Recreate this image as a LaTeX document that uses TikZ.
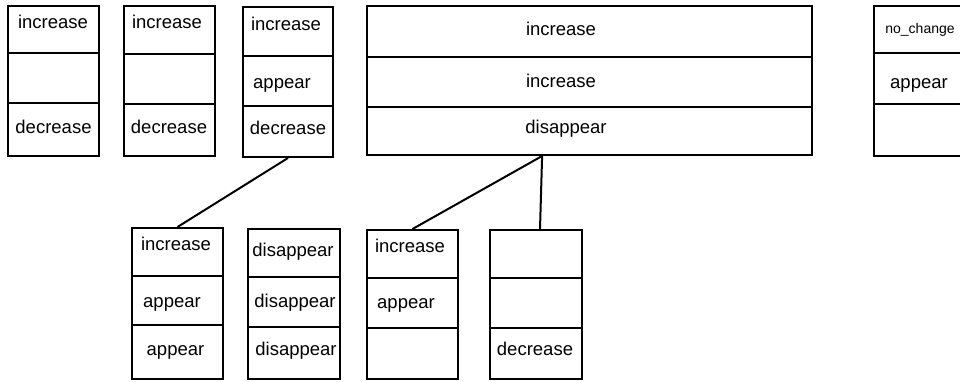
\documentclass[tikz,border=0pt]{standalone}
\usepackage{fontspec}
\setmainfont{Liberation Sans}
\usepackage{tikz}
\usetikzlibrary{calc}

\begin{document}
\begin{tikzpicture}[x=1pt,y=-1pt,semithick]
        \tikzstyle{cell}=[
            draw=black,
            line width=2pt,
            minimum width=91pt,
            inner sep=0pt
        ]
        \tikzstyle{txt}=[anchor=base, inner sep=0pt, font=\fontsize{18.5}{20}\selectfont]
        \tikzstyle{smalltxt}=[anchor=base, inner sep=0pt, font=\fontsize{14}{16}\selectfont]

        \useasboundingbox (0,0) rectangle (960,381);

        % top row
        \node[cell, minimum height=47pt] (A1) at (53.5,29.5){};
        \node[cell, minimum height=50pt] (A2) at (53.5,78){};
        \node[cell, minimum height=53pt] (A3) at (53.5,129.5){};
        \node[txt] (a1) at (53,28){increase};
        \node[txt] (a3) at (53.5,133){decrease};

        \node[cell, minimum height=48pt] (B1) at (169.5,30){};
        \node[cell, minimum height=50pt] (B2) at (169.5,79){};
        \node[cell, minimum height=52pt] (B3) at (169.5,130){};
        \node[txt] (b1) at (167,28){increase};
        \node[txt] (b3) at (169,133){decrease};

        \node[cell, minimum width=90pt, minimum height=49pt] (C1) at (288,31.5){};
        \node[cell, minimum width=90pt, minimum height=50pt] (C2) at (288,81){};
        \node[cell, minimum width=90pt, minimum height=51pt] (C3) at (288,131.5){};
        \node[txt] (c1) at (286,30){increase};
        \node[txt] (c2) at (282,88){appear};
        \node[txt] (c3) at (288,134){decrease};

        \node[cell, minimum width=445pt, minimum height=51pt] (D1) at (589.5,31.5){};
        \node[cell, minimum width=445pt, minimum height=50pt] (D2) at (589.5,82){};
        \node[cell, minimum width=445pt, minimum height=48pt] (D3) at (589.5,131){};
        \node[txt] (d1) at (561,35){increase};
        \node[txt] (d2) at (561,87){increase};
        \node[txt] (d3) at (566,133){disappear};

        \node[cell, minimum height=47pt] (E1) at (919.5,29.5){};
        \node[cell, minimum height=51pt] (E2) at (919.5,78.5){};
        \node[cell, minimum height=52pt] (E3) at (919.5,130){};
        \node[smalltxt] (e1) at (920,33){no\_change};
        \node[txt] (e2) at (919,88){appear};

        % bottom row
        \node[cell, minimum height=48pt] (F1) at (177.5,252){};
        \node[cell, minimum height=49pt] (F2) at (177.5,300.5){};
        \node[cell, minimum height=54pt] (F3) at (177.5,352){};
        \node[txt] (f1) at (176,250){increase};
        \node[txt] (f2) at (172,307){appear};
        \node[txt] (f3) at (175.5,355){appear};

        \node[cell, minimum width=92pt, minimum height=48pt] (G1) at (294,253){};
        \node[cell, minimum width=92pt, minimum height=50pt] (G2) at (294,302){};
        \node[cell, minimum width=92pt, minimum height=52pt] (G3) at (294,353){};
        \node[txt] (g1) at (293,256){disappear};
        \node[txt] (g2) at (295,307){disappear};
        \node[txt] (g3) at (296,355){disappear};

        \node[cell, minimum height=48pt] (H1) at (412.5,254){};
        \node[cell, minimum height=50pt] (H2) at (412.5,303){};
        \node[cell, minimum height=51pt] (H3) at (412.5,353.5){};
        \node[txt] (h1) at (410,252){increase};
        \node[txt] (h2) at (406,308){appear};

        \node[cell, minimum width=92pt, minimum height=48pt] (I1) at (535.5,254){};
        \node[cell, minimum width=92pt, minimum height=50pt] (I2) at (535.5,303){};
        \node[cell, minimum width=92pt, minimum height=51pt] (I3) at (535.5,353.5){};
        \node[txt] (i3) at (535,355){decrease};

        \coordinate (split) at ($(D3.south west)!0.394!(D3.south east)$);

        \draw[line width=2pt] (C3.south) -- (F1.north);
        \draw[line width=2pt] (split) -- (H1.north);
        \draw[line width=2pt] (split) -- ([xshift=4.5pt]I1.north);

    \end{tikzpicture}
\end{document}
